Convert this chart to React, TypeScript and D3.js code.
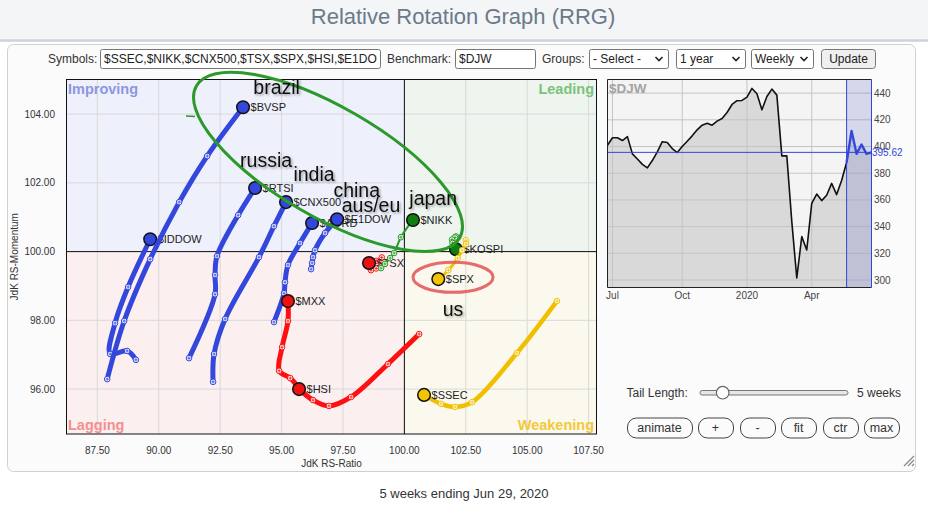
import React from "react";
import * as d3 from "d3";

const FONT = "'Liberation Sans', Arial, Helvetica, sans-serif";

// ---------- RRG tails (oldest -> newest, last point = head) ----------
const iddowRatio = [89.07, 88.71, 88.02, 88.22, 88.75, 89.65];
const iddowMomentum = [96.85, 97.11, 97.02, 97.92, 98.97, 100.36];
const bvspRatio = [87.9, 88.59, 89.65, 90.83, 91.97, 93.43];
const bvspMomentum = [96.29, 97.98, 99.78, 101.44, 102.78, 104.2];
const rtsiRatio = [91.23, 92.29, 92.29, 92.37, 93.23, 93.92];
const rtsiMomentum = [96.9, 98.76, 99.32, 99.87, 101.06, 101.85];
const cnxRatio = [92.21, 92.25, 92.7, 94.08, 94.69, 95.18];
const cnxMomentum = [96.21, 97.02, 98.04, 99.84, 100.74, 101.44];
const aordRatio = [94.69, 95.1, 95.14, 95.26, 95.75, 96.24];
const aordMomentum = [97.95, 98.79, 99.11, 99.61, 100.25, 100.83];
const e1dowRatio = [96.2, 96.24, 96.28, 96.36, 96.77, 97.26];
const e1dowMomentum = [99.49, 99.67, 99.84, 100.04, 100.54, 100.94];
const mxxRatio = [95.64, 95.35, 94.9, 95.02, 95.26, 95.26];
const mxxMomentum = [96.09, 96.32, 96.53, 97.22, 97.98, 98.56];
const hsiRatio = [100.6, 99.33, 97.83, 96.93, 96.28, 95.71];
const hsiMomentum = [97.6, 96.73, 95.77, 95.51, 95.68, 96.0];
const tsxRatio = [98.64, 98.85, 99.05, 99.08, 98.85, 98.56];
const tsxMomentum = [99.46, 99.51, 99.67, 99.83, 99.73, 99.67];
const nikkRatio = [99.05, 99.21, 99.42, 99.58, 99.86, 100.35];
const nikkMomentum = [99.52, 99.64, 99.81, 99.96, 100.42, 100.92];
const kospiRatio = [102.1, 102.06, 101.94, 101.96, 102.02, 102.1];
const kospiMomentum = [100.44, 100.41, 100.35, 100.25, 100.16, 100.07];
const spxRatio = [102.5, 102.51, 102.35, 102.17, 101.79, 101.38];
const spxMomentum = [100.33, 100.22, 100.04, 99.81, 99.46, 99.2];
const ssecRatio = [106.21, 104.58, 102.76, 102.06, 101.49, 100.8];
const ssecMomentum = [98.56, 97.05, 95.62, 95.48, 95.57, 95.83];

const xTicks = [87.5, 90, 92.5, 95, 97.5, 100, 102.5, 105, 107.5];
const yTicks = [96, 98, 100, 102, 104];

// annotations (hand-written region names)
const noteTexts = ["brazil", "russia", "india", "china", "aus/eu", "japan", "us"];
const noteRatio = [93.85, 93.31, 95.48, 97.11, 97.45, 100.2, 101.56];
const noteMomentum = [104.585, 102.45, 102.06, 101.6, 101.16, 101.36, 98.13];

// ---------- Benchmark $DJW weekly ----------
const djwDates = [
  "2019-06-24", "2019-07-01", "2019-07-08", "2019-07-15", "2019-07-22", "2019-07-29",
  "2019-08-05", "2019-08-12", "2019-08-19", "2019-08-26", "2019-09-02", "2019-09-09",
  "2019-09-16", "2019-09-23", "2019-09-30", "2019-10-07", "2019-10-14", "2019-10-21",
  "2019-10-28", "2019-11-04", "2019-11-11", "2019-11-18", "2019-11-25", "2019-12-02",
  "2019-12-09", "2019-12-16", "2019-12-23", "2019-12-30", "2020-01-06", "2020-01-13",
  "2020-01-20", "2020-01-27", "2020-02-03", "2020-02-10", "2020-02-17", "2020-02-24",
  "2020-03-02", "2020-03-09", "2020-03-16", "2020-03-23", "2020-03-30", "2020-04-06",
  "2020-04-13", "2020-04-20", "2020-04-27", "2020-05-04", "2020-05-11", "2020-05-18",
  "2020-05-25", "2020-06-01", "2020-06-08", "2020-06-15", "2020-06-22", "2020-06-29",
];
const djwValues = [
  401, 406.6, 406.6, 404.5, 407.4, 394.5, 390.6, 386.6, 384, 389.5, 396, 403.6,
  403, 398.5, 395.5, 400, 404, 408, 412.5, 416, 417.4, 416, 419, 421,
  425.5, 431.5, 434.3, 434.5, 437, 443.5, 439.5, 427.5, 437.5, 443, 438.5, 393,
  393, 343.7, 301.5, 332.5, 322.5, 357.4, 364.4, 359.5, 363.5, 372.4, 364, 374.5,
  388, 411.6, 394.5, 401.5, 394.5, 395.62,
];
const miniYTicks = [300, 320, 340, 360, 380, 400, 420, 440];
const miniTickDates = ["2019-07-01", "2019-10-07", "2020-01-06", "2020-04-06"];
const miniTickLabels = ["Jul", "Oct", "2020", "Apr"];
const tailWeeks = 5;

const COLORS: Record<string, { line: string; head: string }> = {
  blue: { line: "#3447dc", head: "#3447dc" },
  red: { line: "#ff1010", head: "#ee1111" },
  yellow: { line: "#f0c000", head: "#f5c400" },
  green: { line: "#229a22", head: "#0f7d0f" },
};

const series = [
  { name: "$IDDOW", r: iddowRatio, m: iddowMomentum, c: "blue", w: 5 },
  { name: "$BVSP", r: bvspRatio, m: bvspMomentum, c: "blue", w: 5 },
  { name: "$RTSI", r: rtsiRatio, m: rtsiMomentum, c: "blue", w: 5 },
  { name: "$CNX500", r: cnxRatio, m: cnxMomentum, c: "blue", w: 5 },
  { name: "$AORD", r: aordRatio, m: aordMomentum, c: "blue", w: 5 },
  { name: "$E1DOW", r: e1dowRatio, m: e1dowMomentum, c: "blue", w: 5 },
  { name: "$MXX", r: mxxRatio, m: mxxMomentum, c: "red", w: 5 },
  { name: "$HSI", r: hsiRatio, m: hsiMomentum, c: "red", w: 5 },
  { name: "$TSX", r: tsxRatio, m: tsxMomentum, c: "red", w: 1.5 },
  { name: "$NIKK", r: nikkRatio, m: nikkMomentum, c: "green", w: 2 },
  { name: "$KOSPI", r: kospiRatio, m: kospiMomentum, c: "green", w: 2 },
  { name: "$SPX", r: spxRatio, m: spxMomentum, c: "yellow", w: 3 },
  { name: "$SSEC", r: ssecRatio, m: ssecMomentum, c: "yellow", w: 4.5 },
];

// layout
const PL = 66.5, PR = 596.5, PT = 79.5, PB = 434;
const MX0 = 607.5, MX1 = 871.5, MT = 79.5, MB = 287.5;

function Select({ x, w, label }: { x: number; w: number; label: string }) {
  const ax = x + w - 9;
  return (
    <g>
      <rect x={x + 0.5} y={49.5} width={w} height={19} rx={2} fill="#fff" stroke="#767676" />
      <text x={x + 4} y={63} fontSize={12} fill="#222">{label}</text>
      <path d={`M${ax - 3.5},${57} L${ax},${60.5} L${ax + 3.5},${57}`} fill="none" stroke="#222" strokeWidth={1.6} />
    </g>
  );
}

function Btn({ x, w, label }: { x: number; w: number; label: string }) {
  return (
    <g>
      <rect x={x + 0.5} y={418} width={w} height={20} rx={9} fill="#fbfbfb" stroke="#444" />
      <text x={x + w / 2} y={432} fontSize={12.5} textAnchor="middle" fill="#333">{label}</text>
    </g>
  );
}

export default function App() {
  const x = d3.scaleLinear().domain([86.242, 107.822]).range([PL, PR]);
  const y = d3.scaleLinear().domain([94.693, 105.007]).range([PB, PT]);
  const x100 = x(100), y100 = y(100);

  const line = d3
    .line<[number, number]>()
    .x((d) => x(d[0]))
    .y((d) => y(d[1]))
    .curve(d3.curveCatmullRom.alpha(0.5));

  const mx = d3.scalePoint<string>().domain(djwDates).range([MX0, MX1]);
  const my = d3.scaleLinear().domain([294.4, 450.2]).range([MB, MT]);
  const djw = djwDates.map((d, i) => ({ d, v: djwValues[i] }));
  const tailStart = djw.length - 1 - tailWeeks;
  const djwLine = d3.line<{ d: string; v: number }>().x((p) => mx(p.d)!).y((p) => my(p.v));
  const djwArea = d3
    .area<{ d: string; v: number }>()
    .x((p) => mx(p.d)!)
    .y0(MB)
    .y1((p) => my(p.v));
  const lastVal = djwValues[djwValues.length - 1];
  const tailX = mx(djwDates[tailStart])!;

  const ellC = [x(96.89), y(102.61)];
  const redC = [x(101.98), y(99.25)];

  return (
    <svg
      width={928}
      height={508}
      viewBox="0 0 928 508"
      style={{ position: "absolute", left: 0, top: 0, fontFamily: FONT }}
    >
      <defs>
        <filter id="shadow" x="-20%" y="-20%" width="140%" height="160%">
          <feDropShadow dx={1.5} dy={1.5} stdDeviation={1.2} floodColor="#000" floodOpacity={0.35} />
        </filter>
        <clipPath id="plotClip">
          <rect x={PL} y={PT} width={PR - PL} height={PB - PT} />
        </clipPath>
        <clipPath id="symClip">
          <rect x={101} y={50} width={277} height={18} />
        </clipPath>
      </defs>

      <rect x={0} y={0} width={928} height={508} fill="#fff" />
      {/* header */}
      <rect x={0} y={0} width={928} height={40} fill="#f3f5f6" />
      <line x1={0} x2={928} y1={40.5} y2={40.5} stroke="#cbd2d8" strokeWidth={2.5} />
      <text x={463} y={24} textAnchor="middle" fontSize={22} fill="#6b7a8a">
        Relative Rotation Graph (RRG)
      </text>

      {/* panel */}
      <rect x={7.5} y={44.5} width={908} height={427} rx={6} fill="#fbfbfb" stroke="#d0d0d0" />

      {/* controls row */}
      <text x={48} y={63} fontSize={12} fill="#333">Symbols:</text>
      <rect x={100.5} y={49.5} width={280} height={19} rx={2} fill="#fff" stroke="#767676" />
      <g clipPath="url(#symClip)">
        <text x={104} y={63} fontSize={12} fill="#222">$SSEC,$NIKK,$CNX500,$TSX,$SPX,$HSI,$E1DO</text>
      </g>
      <text x={387} y={63} fontSize={12} fill="#333">Benchmark:</text>
      <rect x={455.5} y={49.5} width={80} height={19} rx={2} fill="#fff" stroke="#767676" />
      <text x={459} y={63} fontSize={12} fill="#222">$DJW</text>
      <text x={542} y={63} fontSize={12} fill="#333">Groups:</text>
      <Select x={589} w={79} label="- Select -" />
      <Select x={676} w={69} label="1 year" />
      <Select x={751} w={62} label="Weekly" />
      <rect x={821.5} y={49.5} width={54} height={19} rx={3} fill="#efefef" stroke="#767676" />
      <text x={848.5} y={63} fontSize={12} textAnchor="middle" fill="#222">Update</text>

      {/* ---------- main RRG plot ---------- */}
      <rect x={PL} y={PT} width={x100 - PL} height={y100 - PT} fill="#eef0fb" />
      <rect x={x100} y={PT} width={PR - x100} height={y100 - PT} fill="#eef5ef" />
      <rect x={PL} y={y100} width={x100 - PL} height={PB - y100} fill="#fbeff0" />
      <rect x={x100} y={y100} width={PR - x100} height={PB - y100} fill="#fbf9ed" />
      {xTicks.map((t) => (
        <line key={"gx" + t} x1={x(t)} x2={x(t)} y1={PT} y2={PB} stroke="#d9d9d9" />
      ))}
      {yTicks.map((t) => (
        <line key={"gy" + t} x1={PL} x2={PR} y1={y(t)} y2={y(t)} stroke="#d9d9d9" />
      ))}
      <line x1={x100} x2={x100} y1={PT} y2={PB} stroke="#111" />
      <line x1={PL} x2={PR} y1={y100} y2={y100} stroke="#111" />
      <rect x={PL} y={PT} width={PR - PL} height={PB - PT} fill="none" stroke="#111" />

      <text x={68} y={94} fontSize={14.5} fontWeight="bold" fill="#8c97e2">Improving</text>
      <text x={594} y={94} fontSize={14.5} fontWeight="bold" fill="#7cc27c" textAnchor="end">Leading</text>
      <text x={68} y={430} fontSize={14.5} fontWeight="bold" fill="#f29090">Lagging</text>
      <text x={594} y={430} fontSize={14.5} fontWeight="bold" fill="#f3c83c" textAnchor="end">Weakening</text>

      {xTicks.map((t) => (
        <text key={"tx" + t} x={x(t)} y={454} fontSize={10} textAnchor="middle" fill="#333">
          {t.toFixed(2)}
        </text>
      ))}
      {yTicks.map((t) => (
        <text key={"ty" + t} x={55} y={y(t) + 3.5} fontSize={10} textAnchor="end" fill="#333">
          {t.toFixed(2)}
        </text>
      ))}
      <text x={(PL + PR) / 2} y={467} fontSize={10} textAnchor="middle" fill="#333">JdK RS-Ratio</text>
      <text
        transform={`translate(18,${(PT + PB) / 2}) rotate(-90)`}
        fontSize={10}
        textAnchor="middle"
        fill="#333"
      >
        JdK RS-Momentum
      </text>

      <g clipPath="url(#plotClip)">
        {series.map((s) => {
          const pts: [number, number][] = s.r.map((v, i) => [v, s.m[i]]);
          const col = COLORS[s.c];
          const head = pts[pts.length - 1];
          return (
            <g key={s.name}>
              <path d={line(pts) || ""} fill="none" stroke={col.line} strokeWidth={s.w} strokeLinecap="round" strokeLinejoin="round" />
              {pts.slice(0, -1).map((p, i) => (
                <g key={i}>
                  <circle cx={x(p[0])} cy={y(p[1])} r={2.8} fill="#fff" stroke={col.line} strokeWidth={1} />
                  <path
                    d={`M${x(p[0]) - 1.7},${y(p[1])} H${x(p[0]) + 1.7} M${x(p[0])},${y(p[1]) - 1.7} V${y(p[1]) + 1.7}`}
                    stroke={col.line}
                    strokeWidth={0.9}
                  />
                </g>
              ))}
              <circle cx={x(head[0])} cy={y(head[1])} r={6.3} fill={col.head} stroke="#111" strokeWidth={1.5} />
              <text x={x(head[0]) + 7.5} y={y(head[1]) + 4} fontSize={11} fill="#222">
                {s.name}
              </text>
            </g>
          );
        })}
      </g>

      {/* annotations */}
      <ellipse
        cx={ellC[0]}
        cy={ellC[1]}
        rx={152}
        ry={55}
        transform={`rotate(30 ${ellC[0]} ${ellC[1]})`}
        fill="none"
        stroke="#2b9a2b"
        strokeWidth={3}
      />
      <line x1={186} x2={195} y1={116} y2={116.5} stroke="#2b9a2b" strokeWidth={1.5} />
      <ellipse cx={redC[0]} cy={redC[1]} rx={40} ry={15} fill="none" stroke="#e25c5c" strokeWidth={3} opacity={0.9} />
      <g filter="url(#shadow)">
        {noteTexts.map((t, i) => (
          <text key={t} x={x(noteRatio[i])} y={y(noteMomentum[i])} fontSize={19.5} fill="#111">
            {t}
          </text>
        ))}
      </g>

      {/* ---------- benchmark mini chart ---------- */}
      <rect x={MX0} y={MT} width={MX1 - MX0} height={MB - MT} fill="#f4f4f4" />
      <path d={djwArea(djw) || ""} fill="#d9d9d9" />
      {miniYTicks.map((t) => (
        <line key={"my" + t} x1={MX0} x2={MX1} y1={my(t)} y2={my(t)} stroke="#c4c4c4" />
      ))}
      {miniTickDates.map((d) => (
        <line key={"mx" + d} x1={mx(d)!} x2={mx(d)!} y1={MT} y2={MB} stroke="#c4c4c4" />
      ))}
      <rect x={tailX} y={MT} width={MX1 - tailX} height={MB - MT} fill="#5a66c8" opacity={0.2} />
      <path d={djwLine(djw.slice(0, tailStart + 1)) || ""} fill="none" stroke="#111" strokeWidth={1.6} strokeLinejoin="round" />
      <path d={djwLine(djw.slice(tailStart)) || ""} fill="none" stroke="#3447dc" strokeWidth={2.4} strokeLinejoin="round" />
      <line x1={tailX} x2={tailX} y1={MT} y2={MB} stroke="#3447dc" strokeWidth={1} />
      <line x1={MX0} x2={MX1} y1={my(lastVal)} y2={my(lastVal)} stroke="#3447dc" strokeWidth={1} />
      <path d={`M${MX1},${MT} H${MX0} V${MB} H${MX1}`} fill="none" stroke="#222" />
      <line x1={MX1} x2={MX1} y1={MT} y2={MB} stroke="#3447dc" />
      {miniYTicks.map((t) => (
        <text key={"mt" + t} x={874} y={my(t) + 3.5} fontSize={10} fill="#444">
          {t}
        </text>
      ))}
      <text x={872} y={my(lastVal) + 3.5} fontSize={10} fill="#3447dc">{lastVal.toFixed(2)}</text>
      {miniTickDates.map((d, i) => (
        <text key={"ml" + d} x={mx(d)!} y={299} fontSize={10} textAnchor="middle" fill="#444">
          {miniTickLabels[i]}
        </text>
      ))}
      <text x={609} y={93} fontSize={13.5} fontWeight="bold" fill="#a3a3a3">$DJW</text>

      {/* tail length + buttons */}
      <text x={626.5} y={397} fontSize={12} fill="#333">Tail Length:</text>
      <rect x={700} y={390.5} width={148} height={4.5} rx={2.2} fill="#e6e6e6" stroke="#777" />
      <circle cx={722.7} cy={392.7} r={6.3} fill="#fff" stroke="#666" strokeWidth={1.2} />
      <text x={857} y={397} fontSize={12} fill="#333">5 weeks</text>
      <Btn x={627} w={65} label="animate" />
      <Btn x={698} w={35} label="+" />
      <Btn x={740} w={35} label="-" />
      <Btn x={781} w={35} label="fit" />
      <Btn x={823} w={35} label="ctr" />
      <Btn x={864} w={35} label="max" />
      <path d="M914,456 L904,466 M914,460 L908,466 M914,464 L912,466" stroke="#888" strokeWidth={1.2} />

      <text x={464} y={498} fontSize={13} textAnchor="middle" fill="#333">5 weeks ending Jun 29, 2020</text>
    </svg>
  );
}
